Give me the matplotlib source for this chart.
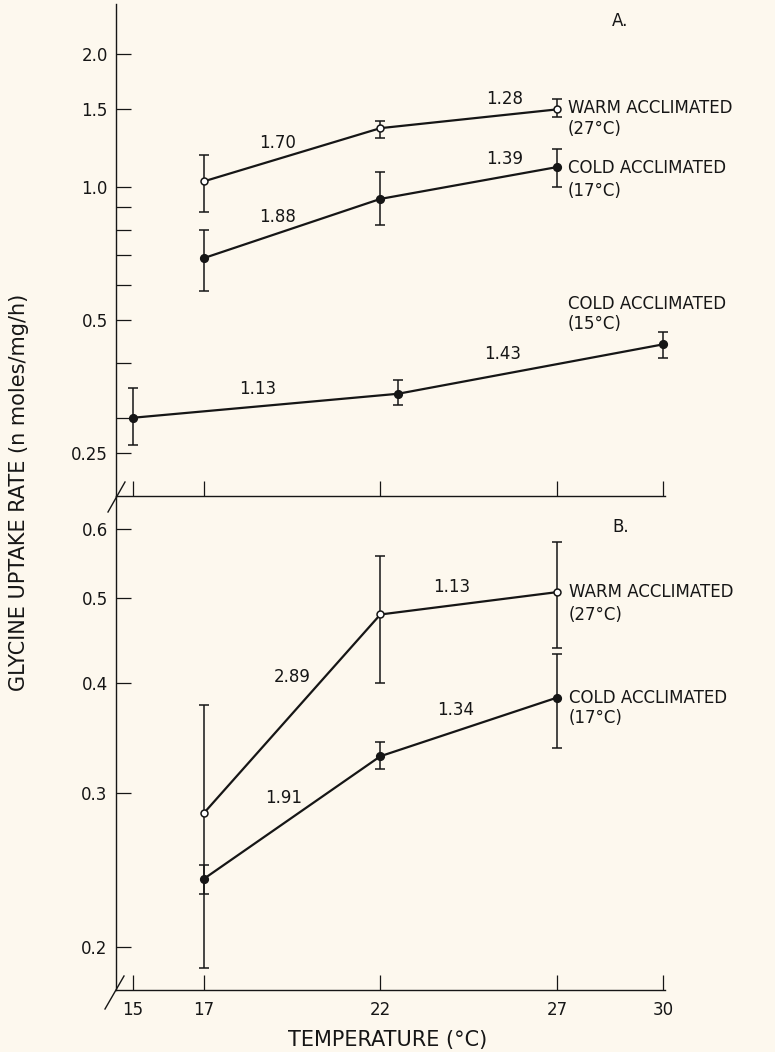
import matplotlib
matplotlib.use("Agg")
import matplotlib.pyplot as plt
from matplotlib.lines import Line2D
from matplotlib.ticker import NullFormatter, NullLocator

# panel A: rate vs temperature, log axis
temps = [17, 22, 27]
temps_cold15 = [15, 22.5, 30]

a_warm = [1.03, 1.36, 1.50]
a_warm_lo = [0.88, 1.29, 1.44]
a_warm_hi = [1.18, 1.41, 1.58]

a_cold17 = [0.69, 0.94, 1.11]
a_cold17_lo = [0.58, 0.82, 1.00]
a_cold17_hi = [0.80, 1.08, 1.22]

a_cold15 = [0.30, 0.34, 0.44]
a_cold15_lo = [0.26, 0.32, 0.41]
a_cold15_hi = [0.35, 0.365, 0.47]

# panel B
b_warm = [0.284, 0.479, 0.508]
b_warm_lo = [0.189, 0.40, 0.439]
b_warm_hi = [0.378, 0.558, 0.579]

b_cold17 = [0.239, 0.330, 0.385]
b_cold17_lo = [0.230, 0.319, 0.337]
b_cold17_hi = [0.248, 0.343, 0.432]

x_ticks = [15, 17, 22, 27, 30]
x_ticklabels = ["15", "17", "22", "27", "30"]
a_yticks = [0.25, 0.5, 1.0, 1.5, 2.0]
a_yticklabels = ["0.25", "0.5", "1.0", "1.5", "2.0"]
a_yminor = [0.3, 0.4, 0.6, 0.7, 0.8, 0.9]
b_yticks = [0.2, 0.3, 0.4, 0.5, 0.6]
b_yticklabels = ["0.2", "0.3", "0.4", "0.5", "0.6"]

BG = "#fdf8ee"
INK = "#161616"

plt.rcParams["font.family"] = ["DejaVu Sans"]


def draw_series(ax, x, y, lo, hi, open_marker):
    yerr = [[v - l for v, l in zip(y, lo)], [h - v for v, h in zip(y, hi)]]
    cont = ax.errorbar(
        x, y, yerr=yerr, color=INK, lw=1.6, elinewidth=1.1, capsize=3.5,
        capthick=1.1, marker="o", ms=5.5 if not open_marker else 5,
        mfc="white" if open_marker else INK, mec=INK, mew=1.1, zorder=3,
    )
    for art in cont.get_children():
        art.set_clip_on(False)


def style_axis(ax):
    ax.set_facecolor("none")
    ax.set_yscale("log")
    ax.set_xlim(14.52, 30.05)
    for side in ["top", "right"]:
        ax.spines[side].set_visible(False)
    for side in ["left", "bottom"]:
        ax.spines[side].set_linewidth(1.0)
        ax.spines[side].set_color(INK)
    ax.set_xticks(x_ticks)
    ax.tick_params(axis="both", which="both", direction="in", length=11,
                   width=0.9, color=INK, labelsize=12, labelcolor=INK, pad=6)


fig = plt.figure(figsize=(7.75, 10.52), dpi=100, facecolor=BG)
ax_a = fig.add_axes([0.1497, 0.5285, 0.7081, 0.4677])
ax_b = fig.add_axes([0.1497, 0.0589, 0.7081, 0.4696])

# ---- panel A ----
style_axis(ax_a)
ax_a.set_ylim(0.1994, 2.6)
ax_a.set_yticks(a_yticks, labels=a_yticklabels)
ax_a.set_yticks(a_yminor, minor=True)
ax_a.yaxis.set_minor_formatter(NullFormatter())
ax_a.tick_params(axis="x", labelbottom=False)

draw_series(ax_a, temps, a_warm, a_warm_lo, a_warm_hi, True)
draw_series(ax_a, temps, a_cold17, a_cold17_lo, a_cold17_hi, False)
draw_series(ax_a, temps_cold15, a_cold15, a_cold15_lo, a_cold15_hi, False)

tkw = dict(fontsize=12, color=INK, ha="center", va="center")
ax_a.text(19.1, 1.26, "1.70", **tkw)
ax_a.text(19.08, 0.855, "1.88", **tkw)
ax_a.text(18.54, 0.348, "1.13", **tkw)
ax_a.text(25.53, 1.583, "1.28", **tkw)
ax_a.text(25.53, 1.157, "1.39", **tkw)
ax_a.text(25.47, 0.418, "1.43", **tkw)
ax_a.text(28.79, 2.378, "A.", **tkw)

lkw = dict(fontsize=12, color=INK, ha="left", va="center", clip_on=False)
ax_a.text(27.31, 1.51, "WARM ACCLIMATED", **lkw)
ax_a.text(27.31, 1.354, "(27°C)", **lkw)
ax_a.text(27.31, 1.104, "COLD ACCLIMATED", **lkw)
ax_a.text(27.31, 0.979, "(17°C)", **lkw)
ax_a.text(27.31, 0.543, "COLD ACCLIMATED", **lkw)
ax_a.text(27.31, 0.489, "(15°C)", **lkw)

# ---- panel B ----
style_axis(ax_b)
ax_b.set_ylim(0.1785, 0.654)
ax_b.set_yticks(b_yticks, labels=b_yticklabels)
ax_b.yaxis.set_minor_locator(NullLocator())
ax_b.set_xticks(x_ticks, labels=x_ticklabels)
ax_b.tick_params(axis="x", pad=8)

draw_series(ax_b, temps, b_warm, b_warm_lo, b_warm_hi, True)
draw_series(ax_b, temps, b_cold17, b_cold17_lo, b_cold17_hi, False)

ax_b.text(19.5, 0.406, "2.89", **tkw)
ax_b.text(19.25, 0.296, "1.91", **tkw)
ax_b.text(24.03, 0.515, "1.13", **tkw)
ax_b.text(24.12, 0.373, "1.34", **tkw)
ax_b.text(28.79, 0.603, "B.", **tkw)
ax_b.text(27.34, 0.508, "WARM ACCLIMATED", **lkw)
ax_b.text(27.34, 0.478, "(27°C)", **lkw)
ax_b.text(27.34, 0.385, "COLD ACCLIMATED", **lkw)
ax_b.text(27.34, 0.365, "(17°C)", **lkw)

# axis break marks
W, H = 775.0, 1052.0
for (x0, y0), (x1, y1) in [((108, 512), (125, 482)), ((105, 1009), (124, 976))]:
    fig.add_artist(Line2D([x0 / W, x1 / W], [1 - y0 / H, 1 - y1 / H],
                          color=INK, lw=1.0))

fig.text(388 / W, 1 - 1040 / H, "TEMPERATURE (°C)", fontsize=15,
         color=INK, ha="center", va="center")
fig.text(19 / W, 1 - 492 / H, "GLYCINE UPTAKE RATE (n moles/mg/h)",
         fontsize=15, color=INK, ha="center", va="center", rotation=90)

fig.savefig("out.png", dpi=100, facecolor=BG)
